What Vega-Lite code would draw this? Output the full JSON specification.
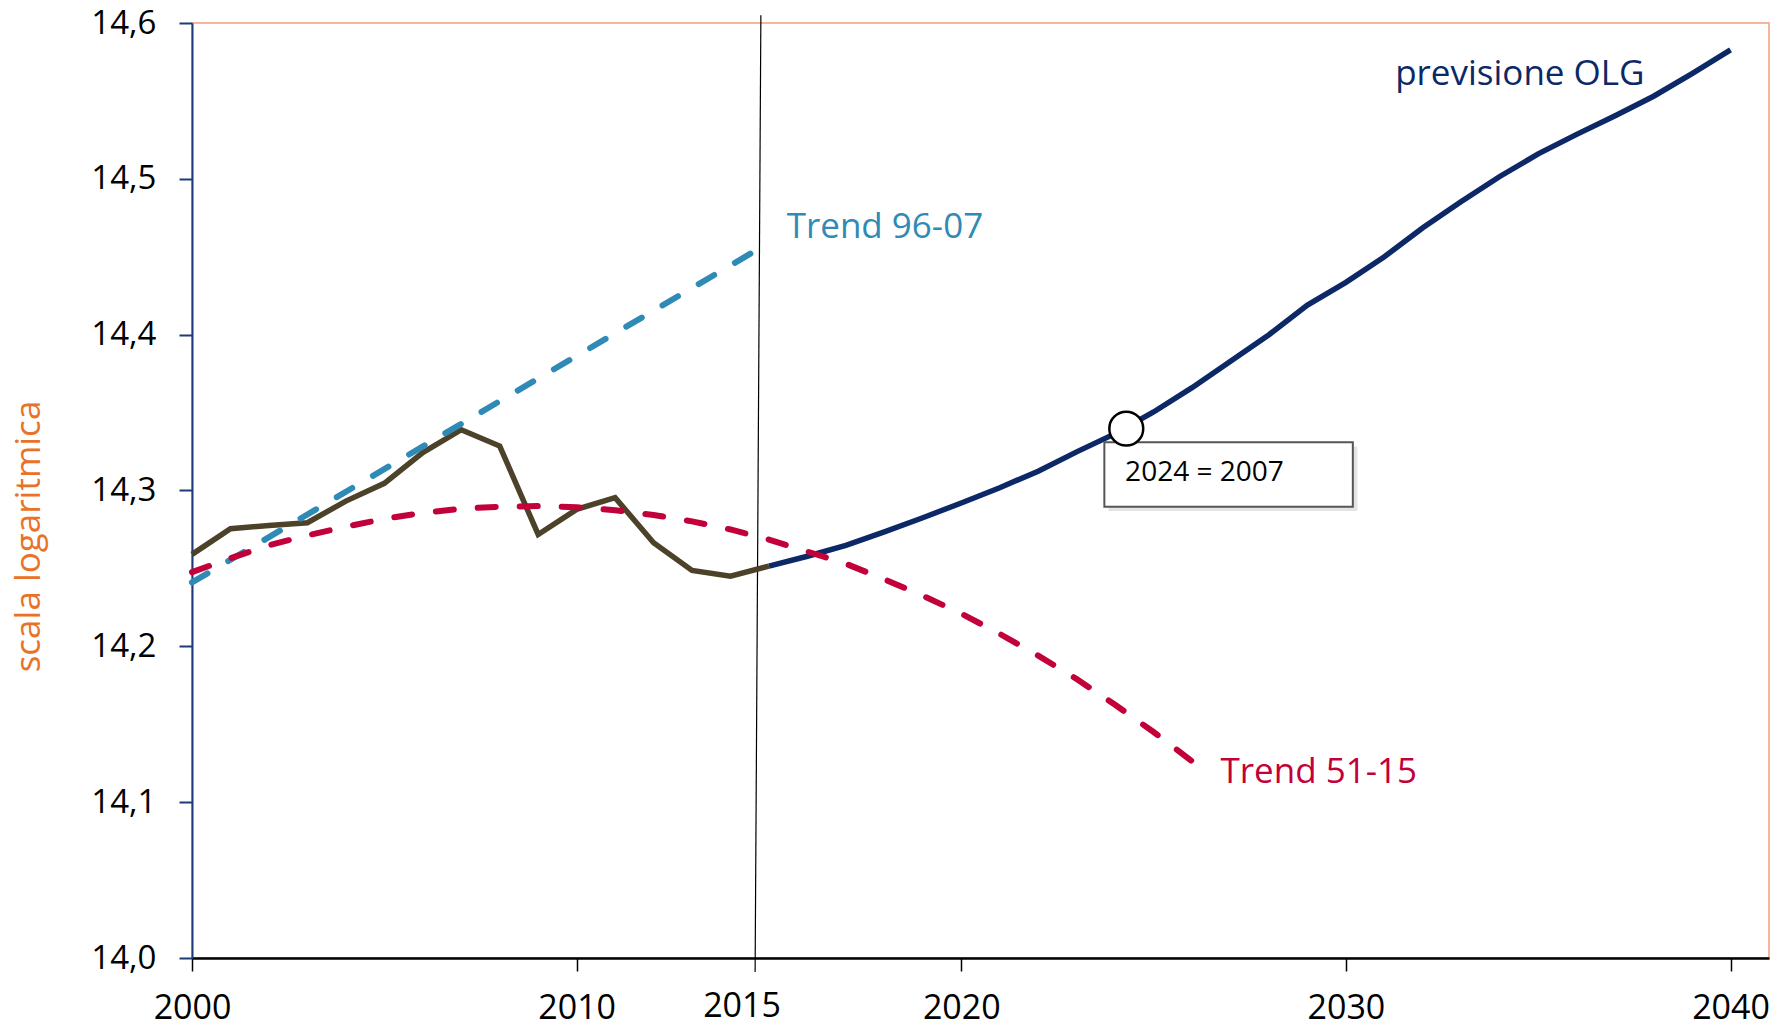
{
  "$schema": "https://vega.github.io/schema/vega-lite/v6.json",
  "width": 1577,
  "height": 935,
  "autosize": {"type": "none"},
  "padding": {"left": 192, "top": 23, "right": 18, "bottom": 73},
  "background": "white",
  "config": {
    "view": {"stroke": "#F6B49C", "strokeWidth": 2},
    "font": "Open Sans"
  },
  "datasets": {
    "lines": [
      {"series": "Storico", "x": 2000, "y": 14.259},
      {"series": "Storico", "x": 2001, "y": 14.2755},
      {"series": "Storico", "x": 2002, "y": 14.2775},
      {"series": "Storico", "x": 2003, "y": 14.2793},
      {"series": "Storico", "x": 2004, "y": 14.2932},
      {"series": "Storico", "x": 2005, "y": 14.3046},
      {"series": "Storico", "x": 2006, "y": 14.3243},
      {"series": "Storico", "x": 2007, "y": 14.339},
      {"series": "Storico", "x": 2008, "y": 14.3285},
      {"series": "Storico", "x": 2009, "y": 14.2718},
      {"series": "Storico", "x": 2010, "y": 14.2879},
      {"series": "Storico", "x": 2011, "y": 14.2954},
      {"series": "Storico", "x": 2012, "y": 14.2665},
      {"series": "Storico", "x": 2013, "y": 14.2487},
      {"series": "Storico", "x": 2014, "y": 14.245},
      {"series": "Storico", "x": 2015, "y": 14.2515},
      {"series": "previsione OLG", "x": 2015, "y": 14.2515},
      {"series": "previsione OLG", "x": 2016, "y": 14.2578},
      {"series": "previsione OLG", "x": 2017, "y": 14.2648},
      {"series": "previsione OLG", "x": 2018, "y": 14.2735},
      {"series": "previsione OLG", "x": 2019, "y": 14.2825},
      {"series": "previsione OLG", "x": 2020, "y": 14.292},
      {"series": "previsione OLG", "x": 2021, "y": 14.3018},
      {"series": "previsione OLG", "x": 2022, "y": 14.3124},
      {"series": "previsione OLG", "x": 2023, "y": 14.3248},
      {"series": "previsione OLG", "x": 2024, "y": 14.3365},
      {"series": "previsione OLG", "x": 2025, "y": 14.3504},
      {"series": "previsione OLG", "x": 2026, "y": 14.366},
      {"series": "previsione OLG", "x": 2027, "y": 14.383},
      {"series": "previsione OLG", "x": 2028, "y": 14.4},
      {"series": "previsione OLG", "x": 2029, "y": 14.419},
      {"series": "previsione OLG", "x": 2030, "y": 14.4336},
      {"series": "previsione OLG", "x": 2031, "y": 14.45},
      {"series": "previsione OLG", "x": 2032, "y": 14.4686},
      {"series": "previsione OLG", "x": 2033, "y": 14.4854},
      {"series": "previsione OLG", "x": 2034, "y": 14.5015},
      {"series": "previsione OLG", "x": 2035, "y": 14.516},
      {"series": "previsione OLG", "x": 2036, "y": 14.5285},
      {"series": "previsione OLG", "x": 2037, "y": 14.5405},
      {"series": "previsione OLG", "x": 2038, "y": 14.553},
      {"series": "previsione OLG", "x": 2039, "y": 14.5675},
      {"series": "previsione OLG", "x": 2040, "y": 14.5827},
      {"series": "Trend 96-07", "x": 2000, "y": 14.241},
      {"series": "Trend 96-07", "x": 2007, "y": 14.3428},
      {"series": "Trend 96-07", "x": 2014.76, "y": 14.4555},
      {"series": "Trend 51-15", "x": 2000, "y": 14.2476},
      {"series": "Trend 51-15", "x": 2001, "y": 14.2565},
      {"series": "Trend 51-15", "x": 2002, "y": 14.2648},
      {"series": "Trend 51-15", "x": 2003, "y": 14.2712},
      {"series": "Trend 51-15", "x": 2004, "y": 14.2768},
      {"series": "Trend 51-15", "x": 2005, "y": 14.2818},
      {"series": "Trend 51-15", "x": 2006, "y": 14.2856},
      {"series": "Trend 51-15", "x": 2007, "y": 14.2883},
      {"series": "Trend 51-15", "x": 2008, "y": 14.2896},
      {"series": "Trend 51-15", "x": 2009, "y": 14.29},
      {"series": "Trend 51-15", "x": 2010, "y": 14.2893},
      {"series": "Trend 51-15", "x": 2011, "y": 14.2873},
      {"series": "Trend 51-15", "x": 2012, "y": 14.2843},
      {"series": "Trend 51-15", "x": 2013, "y": 14.2802},
      {"series": "Trend 51-15", "x": 2014, "y": 14.275},
      {"series": "Trend 51-15", "x": 2015, "y": 14.2685},
      {"series": "Trend 51-15", "x": 2016, "y": 14.2608},
      {"series": "Trend 51-15", "x": 2017, "y": 14.253},
      {"series": "Trend 51-15", "x": 2018, "y": 14.243},
      {"series": "Trend 51-15", "x": 2019, "y": 14.2325},
      {"series": "Trend 51-15", "x": 2020, "y": 14.221},
      {"series": "Trend 51-15", "x": 2021, "y": 14.208},
      {"series": "Trend 51-15", "x": 2022, "y": 14.194},
      {"series": "Trend 51-15", "x": 2023, "y": 14.179},
      {"series": "Trend 51-15", "x": 2024, "y": 14.1625},
      {"series": "Trend 51-15", "x": 2025, "y": 14.145},
      {"series": "Trend 51-15", "x": 2026.03, "y": 14.1257}
    ],
    "notes": [
      {"kind": "line2015", "x": 2014.79, "y": 14.605, "x2": 2014.64, "y2": 13.991},
      {"kind": "shadow", "x": 2023.83, "y": 14.3283, "x2": 2030.3, "y2": 14.2868},
      {"kind": "box", "x": 2023.72, "y": 14.3309, "x2": 2030.18, "y2": 14.2896},
      {"kind": "boxlabel", "x": 2024.26, "y": 14.3061, "label": "2024 = 2007"},
      {"kind": "point", "x": 2024.29, "y": 14.3397},
      {"kind": "olg", "x": 2031.28, "y": 14.5602, "label": "previsione OLG"},
      {"kind": "t9607", "x": 2015.46, "y": 14.4622, "label": "Trend 96-07"},
      {"kind": "t5115", "x": 2026.74, "y": 14.1123, "label": "Trend 51-15"},
      {"kind": "x2015", "x": 2014.3, "y": 13.9622, "label": "2015"}
    ]
  },
  "encoding": {
    "x": {
      "field": "x",
      "type": "quantitative",
      "scale": {"domain": [2000, 2041], "nice": false, "zero": false},
      "axis": {
        "values": [2000, 2010, 2020, 2030, 2040],
        "format": "d",
        "title": null,
        "grid": false,
        "labelFlush": false,
        "domainColor": "#000000",
        "domainWidth": 2.5,
        "tickColor": "#000000",
        "tickWidth": 1.5,
        "tickSize": 13,
        "labelFontSize": 34,
        "labelColor": "#000000",
        "labelFont": "Open Sans",
        "labelPadding": 20
      }
    },
    "y": {
      "field": "y",
      "type": "quantitative",
      "scale": {"domain": [14, 14.6], "nice": false, "zero": false},
      "axis": {
        "values": [14, 14.1, 14.2, 14.3, 14.4, 14.5, 14.6],
        "labelExpr": "replace(format(datum.value, '.1f'), '.', ',')",
        "labelFlush": false,
        "title": "scala logaritmica",
        "titleColor": "#E87328",
        "titleFontSize": 35,
        "titleFontWeight": "normal",
        "titleFont": "Open Sans",
        "titleAngle": -90,
        "titleX": -164,
        "titleY": 513,
        "titleAlign": "center",
        "titleBaseline": "middle",
        "grid": false,
        "domainColor": "#1F3A7A",
        "domainWidth": 2,
        "tickColor": "#1F3A7A",
        "tickWidth": 2,
        "tickSize": 13,
        "labelFontSize": 33,
        "labelColor": "#000000",
        "labelFont": "Open Sans",
        "labelPadding": 23
      }
    }
  },
  "layer": [
    {
      "data": {"name": "notes"},
      "transform": [{"filter": "datum.kind === 'line2015'"}],
      "mark": {"type": "rule", "color": "#000000", "strokeWidth": 1.2},
      "encoding": {"x2": {"field": "x2"}, "y2": {"field": "y2"}}
    },
    {
      "data": {"name": "lines"},
      "transform": [{"filter": "datum.series === 'Storico'"}],
      "mark": {"type": "line", "color": "#4C4129", "strokeWidth": 5.5}
    },
    {
      "data": {"name": "lines"},
      "transform": [{"filter": "datum.series === 'previsione OLG'"}],
      "mark": {"type": "line", "color": "#0C2866", "strokeWidth": 5.5}
    },
    {
      "data": {"name": "lines"},
      "transform": [{"filter": "datum.series === 'Trend 96-07'"}],
      "mark": {"type": "line", "color": "#2F8AB5", "strokeWidth": 6, "strokeDash": [18, 24], "strokeCap": "round"}
    },
    {
      "data": {"name": "lines"},
      "transform": [{"filter": "datum.series === 'Trend 51-15'"}],
      "mark": {"type": "line", "color": "#C20039", "strokeWidth": 6, "strokeDash": [18, 24], "strokeCap": "round"}
    },
    {
      "data": {"name": "notes"},
      "transform": [{"filter": "datum.kind === 'shadow'"}],
      "mark": {"type": "rect", "fill": "#D8D8D8", "opacity": 0.7},
      "encoding": {"x2": {"field": "x2"}, "y2": {"field": "y2"}}
    },
    {
      "data": {"name": "notes"},
      "transform": [{"filter": "datum.kind === 'box'"}],
      "mark": {"type": "rect", "fill": "#FFFFFF", "stroke": "#555555", "strokeWidth": 2},
      "encoding": {"x2": {"field": "x2"}, "y2": {"field": "y2"}}
    },
    {
      "data": {"name": "notes"},
      "transform": [{"filter": "datum.kind === 'boxlabel'"}],
      "mark": {"type": "text", "align": "left", "baseline": "alphabetic", "fontSize": 28, "color": "#000000", "font": "Open Sans"},
      "encoding": {"text": {"field": "label"}}
    },
    {
      "data": {"name": "notes"},
      "transform": [{"filter": "datum.kind === 'point'"}],
      "mark": {"type": "point", "shape": "circle", "size": 1150, "filled": true, "fill": "#FFFFFF", "stroke": "#000000", "strokeWidth": 2.5, "opacity": 1}
    },
    {
      "data": {"name": "notes"},
      "transform": [{"filter": "datum.kind === 'olg' || datum.kind === 't9607' || datum.kind === 't5115'"}],
      "mark": {"type": "text", "align": "left", "baseline": "alphabetic", "fontSize": 35, "font": "Open Sans"},
      "encoding": {
        "text": {"field": "label"},
        "color": {
          "field": "kind",
          "type": "nominal",
          "scale": {"domain": ["olg", "t9607", "t5115"], "range": ["#0C2866", "#2F8AB5", "#C20039"]},
          "legend": null
        }
      }
    },
    {
      "data": {"name": "notes"},
      "transform": [{"filter": "datum.kind === 'x2015'"}],
      "mark": {"type": "text", "align": "center", "baseline": "alphabetic", "fontSize": 34, "font": "Open Sans", "color": "#000000"},
      "encoding": {"text": {"field": "label"}}
    }
  ]
}
